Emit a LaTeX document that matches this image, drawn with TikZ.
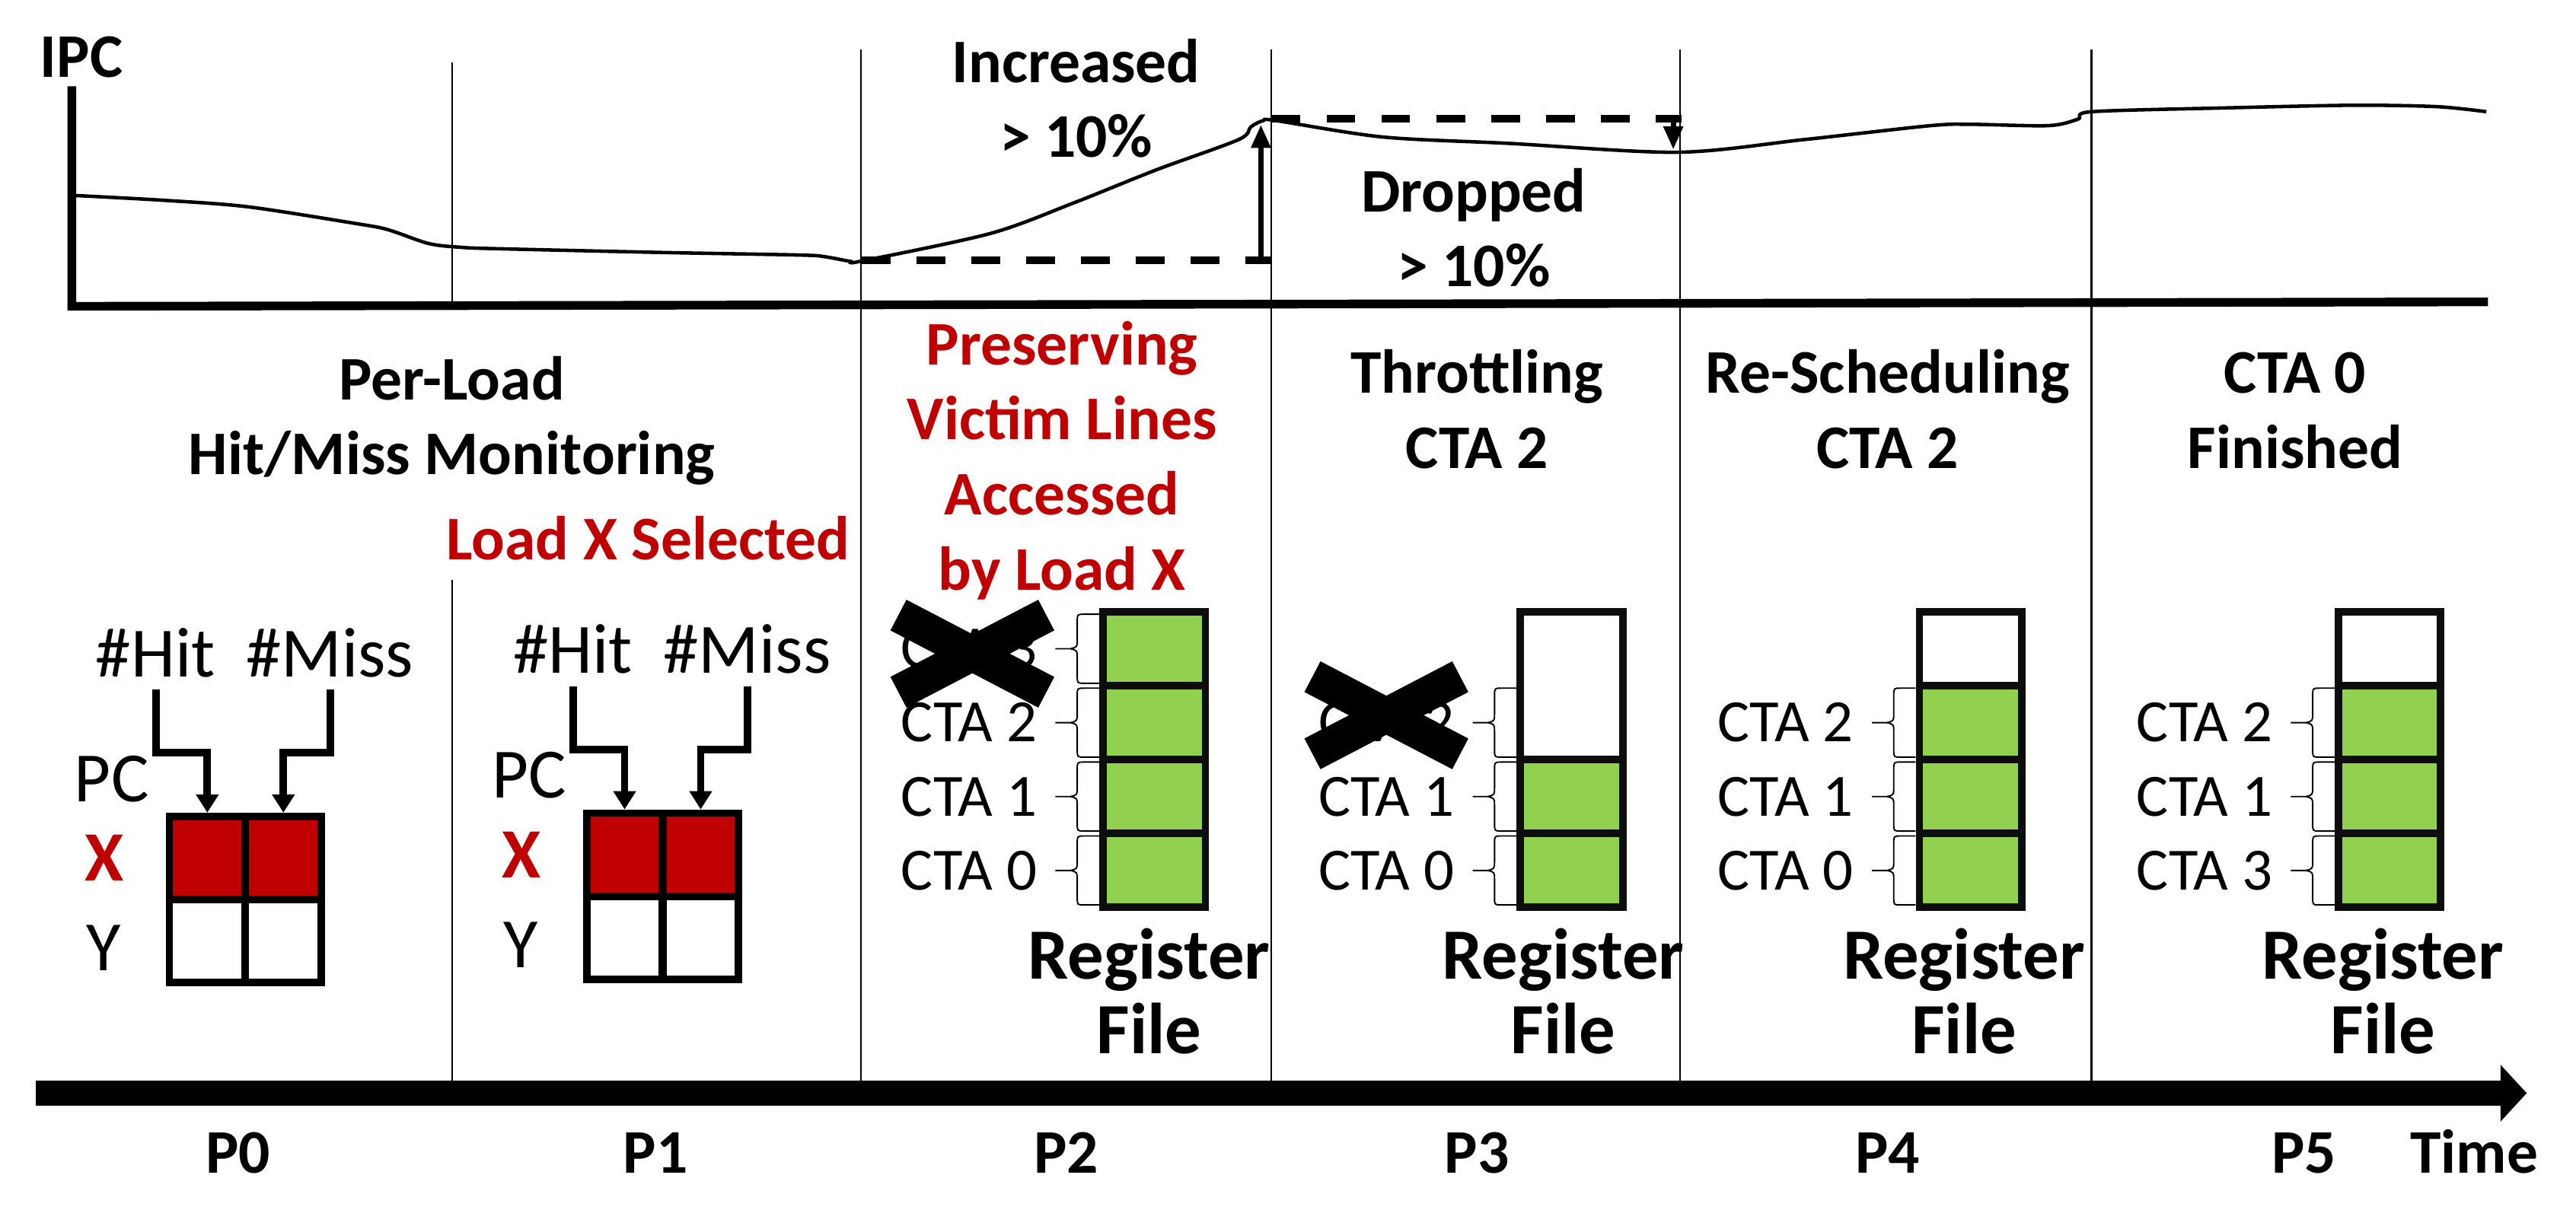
\documentclass[tikz,border=0pt]{standalone}
\usepackage{fontspec}
\setmainfont{Carlito}
\usetikzlibrary{arrows.meta}
\definecolor{xred}{HTML}{C00000}
\definecolor{rfgreen}{HTML}{92D050}
\definecolor{rfline}{HTML}{0D0D0D}

\begin{document}
\begin{tikzpicture}[x=0.2mm,y=-0.2mm,
    phasetitle/.style={font=\bfseries\fontsize{21.5}{26}\selectfont,align=center,anchor=base,inner sep=0pt},
    cnt/.style={font=\fontsize{24.5}{29}\selectfont,anchor=base,inner sep=0pt},
    ctalab/.style={font=\fontsize{20.8}{25}\selectfont,anchor=east,inner sep=0pt},
    rflab/.style={font=\bfseries\fontsize{25}{26}\selectfont,align=center,anchor=base,inner sep=0pt},
    phasesep/.style={line width=0.6pt},
    cell/.style={draw,line width=2.6pt,minimum width=26.3pt,minimum height=28.8pt,inner sep=0pt},
    slot/.style={draw=rfline,fill=rfgreen,line width=2.6pt,minimum width=35.5pt,minimum height=25.6pt,inner sep=0pt},
    cntarr/.style={line width=2.6pt,-{Triangle[length=6.3pt,width=7.5pt]}},
    ipcarr/.style={line width=1.8pt,-{Triangle[length=8pt,width=6.5pt]}},
    lvl/.style={line width=2.6pt,dash pattern=on 10pt off 9pt},
    strike/.style={line width=12pt},
    ctabrace/.pic={\draw[line width=0.5pt] (0,-21) -- (-9,-21) .. controls (-13.3,-21) .. (-13.3,-16.5) -- (-13.3,-5.5) .. controls (-13.3,-1) .. (-17.5,0) -- (-26.6,0) -- (-17.5,0) .. controls (-13.3,1) .. (-13.3,5.5) -- (-13.3,16.5) .. controls (-13.3,21) .. (-9,21) -- (0,21);}]
  \useasboundingbox (0,0) rectangle (1568,748);

  % phase borders (the first one stops under the title)
  \draw[phasesep] (275.2,37.8) -- (275.2,186);
  \draw[phasesep] (275.2,353) -- (275.2,658);
  \draw[phasesep] (524.1,30) -- (524.1,658);
  \draw[phasesep] (773.9,30) -- (773.9,658);
  \draw[phasesep] (1022.7,30) -- (1022.7,658);
  \draw[phasesep] (1273,30) -- (1273,658);

  % IPC over time
  \node[phasetitle] (ipc) at (49.6,47) {IPC};
  \coordinate (ytop) at (43.7,52.5);
  \coordinate (orig) at (43.7,186.5);
  \coordinate (xend) at (1514.4,183.8);
  \draw[line width=3pt] (ytop) -- (orig) -- (xend);
  \draw[line width=1.2pt] plot[smooth,tension=0.5] coordinates {(45.2,119) (100.5,122) (150.8,125.9) (216,136) (236,139.8) (261,148.3) (281,150.6) (301.6,151.4) (402,153.7) (487.5,155.3) (502.6,156.4) (517.7,159.1) (525.2,158.8) (603,142.1) (653.4,123.6) (703.6,103.5) (753.9,85) (761.4,77.2) (769,73.4) (776.5,73.4) (841.5,83.4) (918.5,87.3) (1021,92.7) (1098,85) (1175,76.5) (1200.6,75.7) (1246.7,76.5) (1264.7,72.6) (1273.4,68) (1354.4,65.7) (1431.4,64.1) (1482.7,64.9) (1513.4,68)};
  % +10% step
  \coordinate (lowa) at (524.5,158.5);
  \coordinate (lowb) at (774,158.5);
  \coordinate (upbot) at (767.5,160.5);
  \coordinate (uptop) at (767.5,76);
  \draw[lvl] (lowa) -- (lowb);
  \draw[ipcarr] (upbot) -- (uptop);
  \node[phasetitle] (inc) at (655,95.8) {Increased\\> 10\%};
  % -10% step
  \coordinate (higha) at (774,72.4);
  \coordinate (highb) at (1023.5,72.4);
  \coordinate (dntop) at (1018.5,70);
  \coordinate (dnbot) at (1018.5,91);
  \draw[lvl] (higha) -- (highb);
  \draw[ipcarr] (dntop) -- (dnbot);
  \node[phasetitle] (drop) at (897,174.5) {Dropped\\> 10\%};

  % what happens in each phase
  \node[phasetitle] (t0) at (275,289) {Per-Load\\Hit/Miss Monitoring};
  \node[phasetitle,text=xred] (t1) at (394.5,340.6) {Load X Selected};
  \node[phasetitle,text=xred] (t2) at (646.5,359.1) {Preserving\\Victim Lines\\Accessed\\by Load X};
  \node[phasetitle] (t3) at (899,285) {Throttling\\CTA 2};
  \node[phasetitle] (t4) at (1149,285) {Re-Scheduling\\CTA 2};
  \node[phasetitle] (t5) at (1397,285) {CTA 0\\Finished};

  % P0: hit/miss table
  \node[cell,fill=xred] (h0x) at (126.2,522.4) {};
  \node[cell,fill=xred] (m0x) at (172.5,522.4) {};
  \node[cell] (h0y) at (126.2,572.9) {};
  \node[cell] (m0y) at (172.5,572.9) {};
  \node[cnt] (hit0) at (94.6,412) {\#Hit};
  \node[cnt] (miss0) at (200.8,412) {\#Miss};
  \node[cnt] (pc0) at (68,488) {PC};
  \node[cnt,font=\bfseries\fontsize{24.5}{29}\selectfont,text=xred] (x0) at (63.4,536.4) {X};
  \node[cnt] (y0) at (63,591.2) {Y};
  \coordinate (hs0) at (95,420);
  \coordinate (hk0) at (95,458.3);
  \coordinate (ms0) at (201,420);
  \coordinate (mk0) at (201,458.3);
  \draw[cntarr] (hs0) -- (hk0) -| (h0x.north);
  \draw[cntarr] (ms0) -- (mk0) -| (m0x.north);

  % P1: same table, load X picked
  \begin{scope}[shift={(254,-2)}]
    \node[cell,fill=xred] (h1x) at (126.2,522.4) {};
    \node[cell,fill=xred] (m1x) at (172.5,522.4) {};
    \node[cell] (h1y) at (126.2,572.9) {};
    \node[cell] (m1y) at (172.5,572.9) {};
    \node[cnt] (hit1) at (94.6,412) {\#Hit};
    \node[cnt] (miss1) at (200.8,412) {\#Miss};
    \node[cnt] (pc1) at (68,488) {PC};
    \node[cnt,font=\bfseries\fontsize{24.5}{29}\selectfont,text=xred] (x1) at (63.4,536.4) {X};
    \node[cnt] (y1) at (63,591.2) {Y};
    \coordinate (hs1) at (95,420);
    \coordinate (hk1) at (95,458.3);
    \coordinate (ms1) at (201,420);
    \coordinate (mk1) at (201,458.3);
    \draw[cntarr] (hs1) -- (hk1) -| (h1x.north);
    \draw[cntarr] (ms1) -- (mk1) -| (m1x.north);
  \end{scope}

  % P2: register file, CTA 3 dropped
  \begin{scope}[shift={(702.5,0)}]
    \node[slot] (p2s1) at (0,395) {};
    \node[slot] (p2s2) at (0,440) {};
    \node[slot] (p2s3) at (0,485) {};
    \node[slot] (p2s4) at (0,530) {};
    \node[ctalab] (p2c1) at (-71,395) {CTA 3};
    \node[ctalab] (p2c2) at (-71,440) {CTA 2};
    \node[ctalab] (p2c3) at (-71,485) {CTA 1};
    \node[ctalab] (p2c4) at (-71,530) {CTA 0};
    \pic at (-33.5,395) {ctabrace};
    \pic at (-33.5,440) {ctabrace};
    \pic at (-33.5,485) {ctabrace};
    \pic at (-33.5,530) {ctabrace};
    \draw[strike] ([shift={(-43,-20.5)}]p2c1.center) -- ([shift={(47,26.5)}]p2c1.center);
    \draw[strike] ([shift={(47,-20.5)}]p2c1.center) -- ([shift={(-43,26.5)}]p2c1.center);
    \node[rflab] (p2rf) at (-3,641.7) {Register\\File};
  \end{scope}

  % P3: CTA 2 throttled
  \begin{scope}[shift={(956.5,0)}]
    \node[slot,fill=white,minimum height=51.2pt] (p3s1) at (0,417.5) {};
    \node[slot] (p3s3) at (0,485) {};
    \node[slot] (p3s4) at (0,530) {};
    \node[ctalab] (p3c2) at (-71,440) {CTA 2};
    \node[ctalab] (p3c3) at (-71,485) {CTA 1};
    \node[ctalab] (p3c4) at (-71,530) {CTA 0};
    \pic at (-33.5,440) {ctabrace};
    \pic at (-33.5,485) {ctabrace};
    \pic at (-33.5,530) {ctabrace};
    \draw[strike] ([shift={(-45,-28)}]p3c2.center) -- ([shift={(45,19)}]p3c2.center);
    \draw[strike] ([shift={(45,-28)}]p3c2.center) -- ([shift={(-45,19)}]p3c2.center);
    \node[rflab] (p3rf) at (-5,641.7) {Register\\File};
  \end{scope}

  % P4: CTA 2 back
  \begin{scope}[shift={(1199.5,0)}]
    \node[slot,fill=white] (p4s1) at (0,395) {};
    \node[slot] (p4s2) at (0,440) {};
    \node[slot] (p4s3) at (0,485) {};
    \node[slot] (p4s4) at (0,530) {};
    \node[ctalab] (p4c2) at (-71,440) {CTA 2};
    \node[ctalab] (p4c3) at (-71,485) {CTA 1};
    \node[ctalab] (p4c4) at (-71,530) {CTA 0};
    \pic at (-33.5,440) {ctabrace};
    \pic at (-33.5,485) {ctabrace};
    \pic at (-33.5,530) {ctabrace};
    \node[rflab] (p4rf) at (-4,641.7) {Register\\File};
  \end{scope}

  % P5: CTA 0 done, CTA 3 in
  \begin{scope}[shift={(1454.5,0)}]
    \node[slot,fill=white] (p5s1) at (0,395) {};
    \node[slot] (p5s2) at (0,440) {};
    \node[slot] (p5s3) at (0,485) {};
    \node[slot] (p5s4) at (0,530) {};
    \node[ctalab] (p5c2) at (-71,440) {CTA 2};
    \node[ctalab] (p5c3) at (-71,485) {CTA 1};
    \node[ctalab] (p5c4) at (-71,530) {CTA 3};
    \pic at (-33.5,440) {ctabrace};
    \pic at (-33.5,485) {ctabrace};
    \pic at (-33.5,530) {ctabrace};
    \node[rflab] (p5rf) at (-4,641.7) {Register\\File};
  \end{scope}

  % time line
  \coordinate (tbeg) at (22,665.6);
  \coordinate (tend) at (1538,665.6);
  \draw[line width=8.6pt,-{Triangle[length=9.1pt,width=19.2pt]}] (tbeg) -- (tend);
  \node[phasetitle] (p0) at (145,714.4) {P0};
  \node[phasetitle] (p1) at (399,714.4) {P1};
  \node[phasetitle] (p2) at (649,714.4) {P2};
  \node[phasetitle] (p3) at (899,714.4) {P3};
  \node[phasetitle] (p4) at (1149,714.4) {P4};
  \node[phasetitle] (p5) at (1402.5,714.4) {P5};
  \node[phasetitle] (time) at (1506,714.4) {Time};
\end{tikzpicture}
\end{document}
